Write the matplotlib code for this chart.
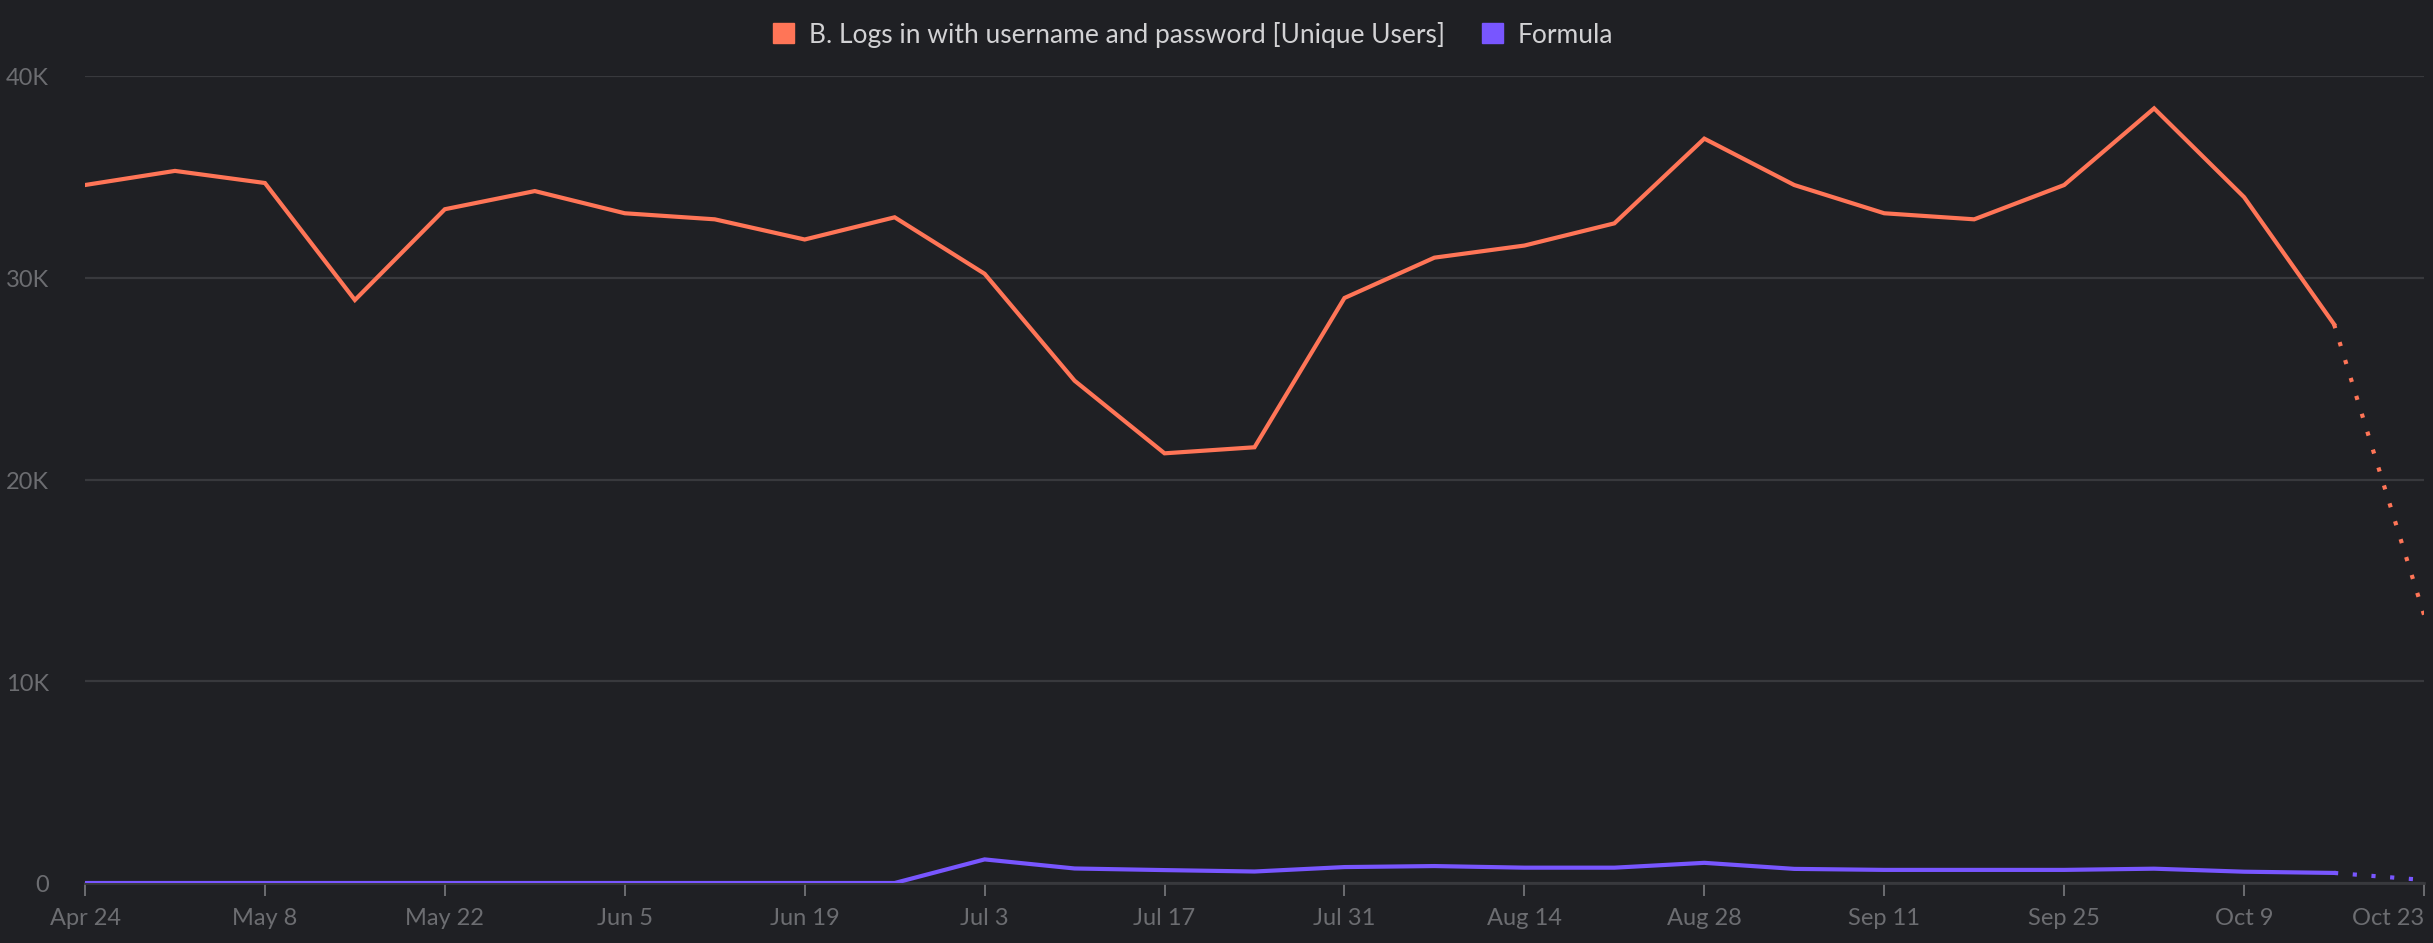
import matplotlib
matplotlib.use("Agg")
import matplotlib.pyplot as plt
import matplotlib.dates as mdates
from matplotlib.patches import Patch
import pandas as pd

# weekly unique users, Apr 24 -> Oct 23 (last week is partial, drawn dotted)
weeks = pd.date_range("2023-04-24", periods=27, freq="7D")
logins = [34.6, 35.3, 34.7, 28.9, 33.4, 34.3, 33.2, 32.9, 31.9, 33.0,
          30.2, 24.9, 21.3, 21.6, 29.0, 31.0, 31.6, 32.7, 36.9, 34.6,
          33.2, 32.9, 34.6, 38.4, 34.0, 27.7, 13.3]
formula = [0, 0, 0, 0, 0, 0, 0, 0, 0, 0,
           1.17, 0.72, 0.64, 0.57, 0.79, 0.84, 0.76, 0.76, 1.0, 0.7,
           0.65, 0.65, 0.65, 0.71, 0.56, 0.5, 0.15]
series_names = ["B. Logs in with username and password [Unique Users]", "Formula"]
series_colors = ["#ff7557", "#7856ff"]

BG = "#1f2024"
GRID = "#38393d"
TICK = "#6c6d71"

plt.rcParams["font.family"] = ["Lato", "DejaVu Sans"]

fig = plt.figure(figsize=(24.33, 9.439), dpi=100, facecolor=BG)
ax = fig.add_axes([85 / 2433, 60 / 944, 2339 / 2433, 807 / 944])
ax.set_facecolor(BG)

for vals, col in zip([logins, formula], series_colors):
    y = [v * 1000 for v in vals]
    ax.plot(weeks[:-1], y[:-1], color=col, lw=3.0, solid_joinstyle="miter", zorder=3)
    ax.plot(weeks[-2:], y[-2:], color=col, lw=3.0, ls=(0, (1, 3.5)),
            dash_capstyle="butt", zorder=3)

ax.set_ylim(0, 40000)
ax.set_xlim(weeks[0], weeks[-1])
ax.set_yticks([0, 10000, 20000, 30000, 40000])
ax.set_yticklabels(["0", "10K", "20K", "30K", "40K"])
ax.set_xticks(weeks[::2])
ax.xaxis.set_major_formatter(mdates.DateFormatter("%b %-d"))

ax.grid(axis="y", color=GRID, lw=1.6)
ax.set_axisbelow(True)
for s in ["top", "right", "left"]:
    ax.spines[s].set_visible(False)
ax.spines["bottom"].set_color(GRID)
ax.spines["bottom"].set_linewidth(2)

ax.tick_params(axis="x", colors=TICK, length=9, width=1.4, pad=8, labelsize=17)
ax.tick_params(axis="y", colors=TICK, length=0, pad=26, labelsize=17)
for lab in ax.get_xticklabels():
    lab.set_color(TICK)
ax.get_xticklabels()[-1].set_horizontalalignment("right")

handles = [Patch(facecolor=c, edgecolor=c, label=n) for n, c in zip(series_names, series_colors)]
leg = fig.legend(handles=handles, loc="center", bbox_to_anchor=(1193 / 2433, 1 - 35 / 944),
                 ncol=2, frameon=False, fontsize=19, handlelength=0.8, handleheight=0.8,
                 handletextpad=0.55, columnspacing=1.4)
for t in leg.get_texts():
    t.set_color("#d2d2d4")

fig.savefig("out.png", dpi=100, facecolor=BG)
